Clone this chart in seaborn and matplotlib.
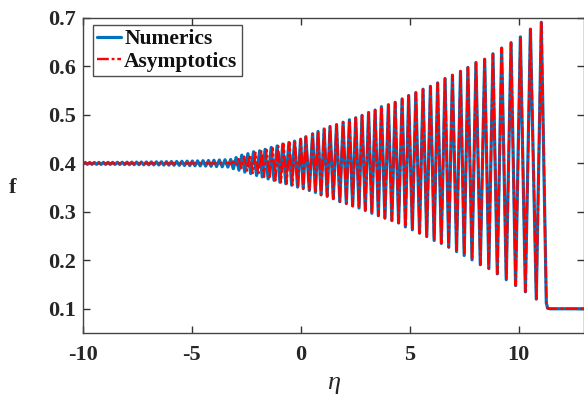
import matplotlib
matplotlib.use("Agg")
import matplotlib.pyplot as plt
import pandas as pd
import seaborn as sns

# ---------------- data ----------------
# Numerics: small-amplitude ripples on the left (peaks / following troughs)
num_left_peak_eta = [-9.90, -9.69, -9.48, -9.27, -9.06, -8.85, -8.64, -8.42, -8.20, -7.98,
                     -7.76, -7.54, -7.32, -7.09, -6.86, -6.63, -6.40, -6.17, -5.94, -5.70,
                     -5.46, -5.22, -4.98, -4.74, -4.49, -4.24, -3.99, -3.74, -3.48]
num_left_peak_f = [0.4020, 0.4020, 0.4020, 0.4021, 0.4021, 0.4022, 0.4022, 0.4023, 0.4024, 0.4025,
                   0.4026, 0.4027, 0.4028, 0.4029, 0.4030, 0.4032, 0.4034, 0.4036, 0.4038, 0.4040,
                   0.4043, 0.4046, 0.4049, 0.4052, 0.4056, 0.4060, 0.4064, 0.4069, 0.4074]
num_left_trough_eta = [-9.80, -9.59, -9.38, -9.17, -8.96, -8.75, -8.53, -8.31, -8.09, -7.87,
                       -7.65, -7.43, -7.21, -6.98, -6.75, -6.52, -6.29, -6.06, -5.82, -5.58,
                       -5.34, -5.10, -4.86, -4.62, -4.37, -4.12, -3.87, -3.61, -3.35]
num_left_trough_f = [0.3980, 0.3980, 0.3980, 0.3979, 0.3979, 0.3978, 0.3978, 0.3977, 0.3976, 0.3975,
                     0.3974, 0.3973, 0.3972, 0.3971, 0.3970, 0.3968, 0.3966, 0.3964, 0.3962, 0.3960,
                     0.3957, 0.3954, 0.3951, 0.3948, 0.3944, 0.3940, 0.3935, 0.3930, 0.3924]

# Large oscillations (peaks and the trough that follows each peak)
peak_eta = [-3.22, -2.97, -2.71, -2.43, -2.17, -1.89, -1.64, -1.36, -1.09, -0.83,
            -0.55, -0.29, -0.01, 0.23, 0.54, 0.79, 1.07, 1.34, 1.64, 1.94,
            2.23, 2.52, 2.81, 3.11, 3.41, 3.70, 4.02, 4.33, 4.65, 4.95,
            5.28, 5.61, 5.95, 6.28, 6.62, 6.96, 7.33, 7.67, 8.04, 8.44,
            8.82, 9.22, 9.65, 10.08, 10.54, 11.04]
peak_f = [0.408, 0.412, 0.417, 0.420, 0.424, 0.426, 0.429, 0.433, 0.436, 0.440,
          0.443, 0.446, 0.450, 0.455, 0.461, 0.466, 0.471, 0.476, 0.480, 0.485,
          0.490, 0.494, 0.499, 0.505, 0.510, 0.517, 0.521, 0.526, 0.533, 0.540,
          0.546, 0.553, 0.559, 0.566, 0.575, 0.582, 0.590, 0.598, 0.608, 0.615,
          0.626, 0.638, 0.649, 0.661, 0.677, 0.691]
trough_eta = [-3.10, -2.84, -2.57, -2.30, -2.03, -1.77, -1.50, -1.23, -0.96, -0.69,
              -0.42, -0.15, 0.11, 0.39, 0.67, 0.93, 1.21, 1.49, 1.79, 2.09,
              2.38, 2.67, 2.96, 3.26, 3.56, 3.86, 4.18, 4.49, 4.80, 5.12,
              5.45, 5.78, 6.12, 6.45, 6.79, 7.15, 7.50, 7.86, 8.24, 8.63,
              9.02, 9.43, 9.86, 10.31, 10.81]
trough_f = [0.389, 0.386, 0.382, 0.379, 0.375, 0.372, 0.368, 0.365, 0.361, 0.358,
            0.355, 0.351, 0.348, 0.344, 0.340, 0.335, 0.332, 0.327, 0.321, 0.317,
            0.312, 0.308, 0.303, 0.297, 0.292, 0.287, 0.282, 0.277, 0.269, 0.263,
            0.256, 0.249, 0.241, 0.235, 0.227, 0.218, 0.210, 0.201, 0.191, 0.183,
            0.172, 0.160, 0.148, 0.135, 0.120]

# Asymptotics: flat on the left, phase-shifted oscillations for eta < 0
asy_flat_eta = [-10.0, -3.55]
asy_flat_f = [0.400, 0.400]
asy_peak_eta = [-3.35, -3.10, -2.855, -2.60, -2.33, -2.08, -1.81, -1.57, -1.30, -1.04,
                -0.79, -0.52, -0.27, 0.00]
asy_peak_f = [0.401, 0.404, 0.409, 0.414, 0.418, 0.422, 0.425, 0.428, 0.432, 0.436,
              0.440, 0.443, 0.446, 0.450]
asy_trough_eta = [-3.22, -2.98, -2.73, -2.47, -2.21, -1.95, -1.69, -1.43, -1.17, -0.91,
                  -0.65, -0.39, -0.13, 0.11]
asy_trough_f = [0.399, 0.395, 0.390, 0.385, 0.380, 0.376, 0.372, 0.368, 0.365, 0.361,
                0.358, 0.355, 0.351, 0.348]

# Tail after the leading soliton
tail_eta = [11.27, 11.33, 11.45, 13.0]
tail_f = [0.112, 0.101, 0.100, 0.100]
start_eta = [-10.0]
start_f = [0.3985]

xticks = [-10, -5, 0, 5, 10]
yticks = [0.1, 0.2, 0.3, 0.4, 0.5, 0.6, 0.7]


def interleave(pe, pf, te, tf):
    xs, ys = [], []
    for i in range(len(pe)):
        xs.append(pe[i]); ys.append(pf[i])
        if i < len(te):
            xs.append(te[i]); ys.append(tf[i])
    return xs, ys


lx, ly = interleave(num_left_peak_eta, num_left_peak_f, num_left_trough_eta, num_left_trough_f)
rx, ry = interleave(peak_eta, peak_f, trough_eta, trough_f)
num_x = start_eta + lx + rx + tail_eta
num_y = start_f + ly + ry + tail_f

ax_, ay_ = interleave(asy_peak_eta, asy_peak_f, asy_trough_eta, asy_trough_f)
r2x, r2y = interleave(peak_eta[13:], peak_f[13:], trough_eta[13:], trough_f[13:])
asy_x = asy_flat_eta + ax_ + r2x + tail_eta
asy_y = asy_flat_f + ay_ + r2y + tail_f

df_num = pd.DataFrame({"eta": num_x, "f": num_y})
df_asy = pd.DataFrame({"eta": asy_x, "f": asy_y})

# ---------------- style ----------------
sns.set_style("ticks")
plt.rcParams["font.family"] = ["Liberation Serif", "DejaVu Serif"]
plt.rcParams["font.weight"] = "bold"

fig = plt.figure(figsize=(5.84, 3.99), dpi=100)
ax = fig.add_axes([83 / 584, 1 - 333 / 399, 501 / 584, 315 / 399])

blue = "#0072BD"
sns.lineplot(data=df_num, x="eta", y="f", sort=False, estimator=None, color=blue,
             linewidth=2.3, ax=ax, label="Numerics")
sns.lineplot(data=df_asy, x="eta", y="f", sort=False, estimator=None, color="#FF0000",
             linewidth=1.7, linestyle=(0, (5, 1.2, 1.2, 1.2)), ax=ax, label="Asymptotics")

ax.set_xlim(-10, 13)
ax.set_ylim(0.05, 0.7)
ax.set_xticks(xticks)
ax.set_xticklabels([str(t) for t in xticks])
ax.set_yticks(yticks)
ax.set_yticklabels([f"{t:.1f}" for t in yticks])

tc = "#262626"
for s in ax.spines.values():
    s.set_visible(True)
    s.set_color("#444444")
    s.set_linewidth(1.0)
ax.tick_params(direction="in", top=True, right=True, length=5, width=1.0,
               color="#333333", labelcolor=tc, labelsize=16)
ax.tick_params(axis="x", pad=9)
ax.tick_params(axis="y", pad=5)
for lab in ax.get_xticklabels() + ax.get_yticklabels():
    lab.set_fontweight("bold")

ax.set_xlabel("η", fontsize=19, color=tc, fontweight="normal", fontstyle="italic",
              family=["Liberation Serif", "DejaVu Serif"], va="center")
ax.xaxis.set_label_coords(0.5, -0.16)
ax.set_ylabel("f", fontsize=16, fontweight="bold", rotation=0, color=tc, va="center", ha="center")
ax.yaxis.set_label_coords(-0.14, 0.46)

leg = ax.legend(loc="upper left", bbox_to_anchor=(0.02, 0.978), borderaxespad=0,
                prop={"family": "Liberation Serif", "weight": "bold", "size": 15.5},
                frameon=True, fancybox=False, handlelength=1.1, handletextpad=0.15,
                labelspacing=0.1, borderpad=0.2)
leg.get_frame().set_edgecolor("#222222")
leg.get_frame().set_linewidth(1.0)
for t in leg.get_texts():
    t.set_color("#111111")

fig.savefig("out.png", dpi=100, facecolor="white")
